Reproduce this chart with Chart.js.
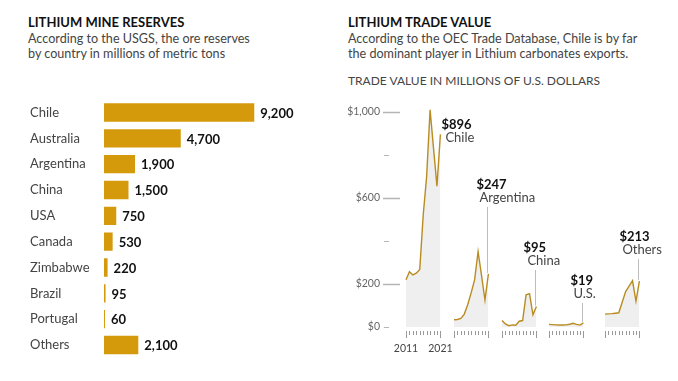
<!DOCTYPE html>
<html><head><meta charset="utf-8">
<script src="https://cdn.jsdelivr.net/npm/chart.js@4.4.0/dist/chart.umd.min.js"></script>
<style>
html,body{margin:0;padding:0;background:#fff;width:678px;height:381px;overflow:hidden;font-family:Lato,sans-serif;}
.t{position:absolute;font-weight:700;font-size:13px;color:#111;white-space:nowrap;line-height:16px;}
.s{position:absolute;font-size:12.6px;color:#444;line-height:15.3px;white-space:nowrap;}
.u{position:absolute;font-size:12px;color:#444;white-space:nowrap;line-height:14px;}
canvas{position:absolute;}
</style></head><body>
<div class="t" style="left:28px;top:14px">LITHIUM MINE RESERVES</div>
<div class="s" style="left:28px;top:31px">According to the USGS, the ore reserves<br>by country in millions of metric tons</div>
<div class="t" style="left:348px;top:14px">LITHIUM TRADE VALUE</div>
<div class="s" style="left:348px;top:31px">According to the OEC Trade Database, Chile is by far<br>the dominant player in Lithium carbonates exports.</div>
<div class="u" style="left:348px;top:74px">TRADE VALUE IN MILLIONS OF U.S. DOLLARS</div>

<canvas id="bars" width="330" height="275" style="left:0;top:91px"></canvas>
<canvas id="p0" width="136" height="280" style="left:340px;top:90px"></canvas>
<canvas id="p1" width="130" height="280" style="left:424px;top:90px"></canvas>
<canvas id="p2" width="130" height="280" style="left:472px;top:90px"></canvas>
<canvas id="p3" width="130" height="280" style="left:519px;top:90px"></canvas>
<canvas id="p4" width="103" height="280" style="left:575px;top:90px"></canvas>

<script>
// ---------- DATA ----------
const reserveCountries = ['Chile','Australia','Argentina','China','USA','Canada','Zimbabwe','Brazil','Portugal','Others'];
const reserveValues = [9200,4700,1900,1500,750,530,220,95,60,2100];

const tradeYears = ['2011','2012','2013','2014','2015','2016','2017','2018','2019','2020','2021'];
const tradeCountries = ['Chile','Argentina','China','U.S.','Others'];
const chileTrade = [220,257,242,250,268,520,700,1010,832,655,896];
const argentinaTrade = [34,35,40,60,105,160,220,350,240,125,247];
const chinaTrade = [30,14,6,10,8,27,30,150,155,57,95];
const usTrade = [12,11,10,9,9,10,13,17,12,9,19];
const othersTrade = [60,61,62,64,66,115,165,190,215,120,213];

const yTickValues = [0,200,400,600,800,1000];
const yTickLabels = ['$0','$200','','$600','','$1,000'];
const xTickLabels = ['2011','2021'];

// ---------- STYLE ----------
Chart.defaults.font.family = 'Lato, sans-serif';
const GOLD = '#d49a0c';
const LINE = '#b98c22';
const FILL = '#efefef';

// ---------- BAR CHART ----------
const barValueLabels = {
  id: 'barValueLabels',
  afterDatasetsDraw(chart) {
    const ctx = chart.ctx;
    const meta = chart.getDatasetMeta(0);
    ctx.save();
    ctx.font = 'bold 13px Lato, sans-serif';
    ctx.fillStyle = '#111';
    ctx.textBaseline = 'middle';
    ctx.textAlign = 'left';
    meta.data.forEach((bar, i) => {
      ctx.fillText(reserveValues[i].toLocaleString('en-US'), bar.x + 6, bar.y + 1);
    });
    ctx.restore();
  }
};

new Chart(document.getElementById('bars'), {
  type: 'bar',
  data: {
    labels: reserveCountries,
    datasets: [{ data: reserveValues, backgroundColor: GOLD, borderWidth: 0,
                 categoryPercentage: 1, barPercentage: 0.71 }]
  },
  options: {
    indexAxis: 'y', responsive: false, animation: false, devicePixelRatio: 1,
    layout: { padding: { left: 30, top: 8.6, bottom: 8.1, right: 30 } },
    plugins: { legend: { display: false }, tooltip: { enabled: false } },
    scales: {
      x: { display: false, min: 0, max: 12000 },
      y: {
        grid: { display: false, drawTicks: false }, border: { display: false },
        ticks: { crossAlign: 'far', color: '#444', font: { size: 13 }, padding: 0 },
        afterFit(s) { s.width = 74; }
      }
    }
  },
  plugins: [barValueLabels]
});

// ---------- SMALL MULTIPLES ----------
const panelDecor = {
  id: 'panelDecor',
  afterDraw(chart, args, o) {
    const ctx = chart.ctx;
    const xs = chart.scales.x, ys = chart.scales.y;
    const bottom = chart.chartArea.bottom;
    ctx.save();
    // year tick marks
    ctx.strokeStyle = '#9a9a9a';
    ctx.lineWidth = 1;
    const n = tradeYears.length;
    for (let i = 0; i < n; i++) {
      const x = Math.round(xs.getPixelForValue(i)) + 0.5;
      const end = (i === 0 || i === n - 1);
      ctx.beginPath();
      ctx.moveTo(x, bottom + 4);
      ctx.lineTo(x, bottom + (end ? 11 : 8));
      ctx.stroke();
    }
    // y ticks (only on the first panel)
    if (o.yTicks) {
      const left = chart.chartArea.left;
      ctx.strokeStyle = '#b5b5b5';
      yTickValues.forEach((v, i) => {
        const y = Math.round(ys.getPixelForValue(v)) + 0.5;
        const major = yTickLabels[i] !== '' && v !== 0;
        ctx.lineWidth = major ? 1.5 : 1;
        ctx.beginPath();
        ctx.moveTo(left - (major ? 23 : 22), y);
        ctx.lineTo(left - (major ? 6 : 17), y);
        ctx.stroke();
      });
    }
    // end label
    const vals = chart.data.datasets[0].data;
    const last = vals.length - 1;
    const ex = xs.getPixelForValue(last);
    const ey = ys.getPixelForValue(vals[last]);
    const vy = ey + o.dy;
    ctx.textBaseline = 'middle';
    ctx.textAlign = 'left';
    ctx.font = 'bold 13px Lato, sans-serif';
    ctx.fillStyle = '#111';
    ctx.fillText('$' + vals[last].toLocaleString('en-US'), ex + o.vx, vy);
    ctx.font = '13px Lato, sans-serif';
    ctx.fillStyle = '#444';
    ctx.fillText(o.name, ex + o.nx, vy + 13);
    if (o.leader) {
      const x = Math.round(ex) - 0.5;
      ctx.strokeStyle = '#bdbdbd';
      ctx.lineWidth = 1;
      ctx.beginPath();
      ctx.moveTo(x, vy + 22);
      ctx.lineTo(x, ey - 1);
      ctx.stroke();
    }
    ctx.restore();
  }
};

const panelSeries = [chileTrade, argentinaTrade, chinaTrade, usTrade, othersTrade];
const panelLayout = [
  { left: 0,  right: 35.6, yAxis: true,  vx: 1,   nx: 5,   dy: -10, leader: false },
  { left: 30, right: 65.6, yAxis: false, vx: -12, nx: -9,  dy: -89, leader: true },
  { left: 30, right: 65.6, yAxis: false, vx: -13, nx: -9,  dy: -58.6, leader: true },
  { left: 30, right: 65.6, yAxis: false, vx: -13, nx: -10, dy: -42, leader: true },
  { left: 30, right: 38.6, yAxis: false, vx: -20, nx: -17, dy: -44, leader: true }
];

panelSeries.forEach((series, k) => {
  const L = panelLayout[k];
  new Chart(document.getElementById('p' + k), {
    type: 'line',
    data: {
      labels: tradeYears,
      datasets: [{
        data: series, borderColor: LINE, borderWidth: 1.4, pointRadius: 0,
        fill: 'origin', backgroundColor: FILL, tension: 0, clip: false
      }]
    },
    options: {
      responsive: false, animation: false, devicePixelRatio: 1,
      layout: { padding: { left: L.left, right: L.right, top: 11.25, bottom: 0 } },
      plugins: {
        legend: { display: false }, tooltip: { enabled: false },
        panelDecor: { name: tradeCountries[k], vx: L.vx, nx: L.nx, dy: L.dy, leader: L.leader, yTicks: L.yAxis }
      },
      scales: {
        x: {
          type: 'category', offset: false,
          grid: { display: false, drawTicks: false }, border: { display: false },
          ticks: {
            autoSkip: false, maxRotation: 0, minRotation: 0, padding: 15,
            color: '#444', font: { size: 10.5 },
            callback: (v, i) => (k === 0 ? (i === 0 ? xTickLabels[0] : (i === tradeYears.length - 1 ? xTickLabels[1] : '')) : '')
          },
          afterFit(s) { s.height = 43; }
        },
        y: {
          display: L.yAxis, min: 0, max: 1050,
          grid: { display: false, drawTicks: true, tickLength: 26 }, border: { display: false },
          afterBuildTicks(s) { s.ticks = yTickValues.map(v => ({ value: v })); },
          ticks: {
            padding: 0, color: '#666', font: { size: 10.5 },
            callback: (v) => yTickLabels[yTickValues.indexOf(v)]
          },
          afterFit(s) { if (L.yAxis) s.width = 66; }
        }
      }
    },
    plugins: [panelDecor]
  });
});
</script>
</body></html>
